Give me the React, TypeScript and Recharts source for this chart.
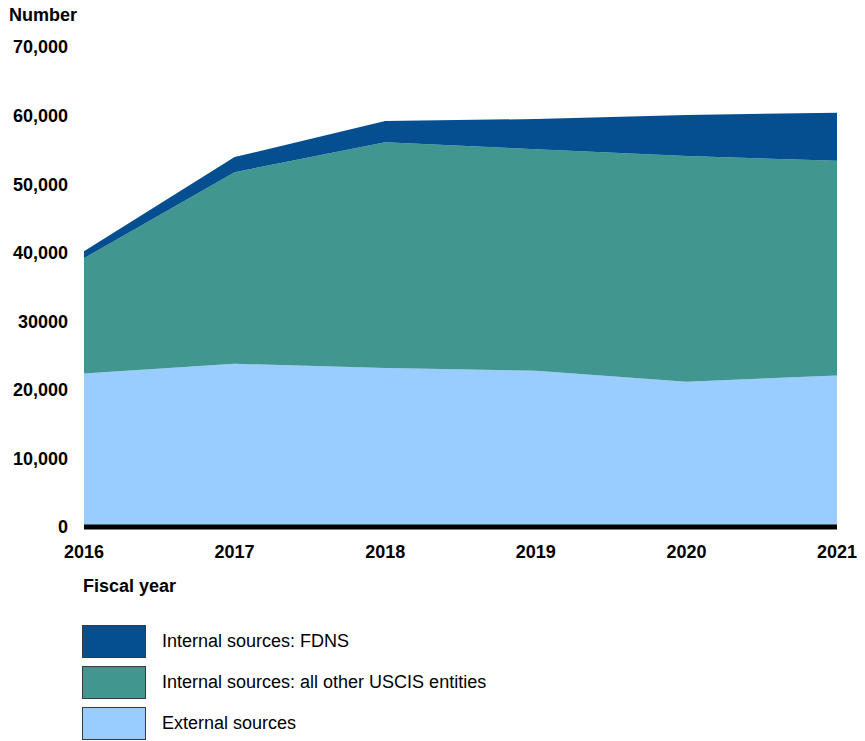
import React from 'react';
import { AreaChart, Area, XAxis, YAxis, ReferenceLine } from 'recharts';

const years = ['2016', '2017', '2018', '2019', '2020', '2021'];
const externalSources = [22400, 23800, 23200, 22800, 21200, 22100];
const otherUscis = [16800, 27950, 32900, 32300, 32900, 31300];
const fdns = [1000, 2200, 3100, 4400, 6000, 7000];

const yTicks = [0, 10000, 20000, 30000, 40000, 50000, 60000, 70000];
const yTickLabels = ['0', '10,000', '20,000', '30000', '40,000', '50,000', '60,000', '70,000'];

const seriesNames = {
  fdns: 'Internal sources: FDNS',
  other: 'Internal sources: all other USCIS entities',
  external: 'External sources',
};
const colors = {
  fdns: '#054F91',
  other: '#41978F',
  external: '#99CCFF',
};

const data = years.map((year, i) => ({
  year,
  external: externalSources[i],
  other: otherUscis[i],
  fdns: fdns[i],
}));

const FONT = '"Liberation Sans", Arial, sans-serif';

export default function App() {
  const legendItems: Array<'fdns' | 'other' | 'external'> = ['fdns', 'other', 'external'];
  return (
    <div
      style={{
        position: 'absolute',
        left: 0,
        top: 0,
        width: 865,
        height: 741,
        background: '#fff',
        fontFamily: FONT,
        color: '#000',
      }}
    >
      <div style={{ position: 'absolute', left: 9, top: 5, fontSize: 18, fontWeight: 'bold', lineHeight: '21px' }}>
        Number
      </div>
      <AreaChart
        width={865}
        height={580}
        data={data}
        margin={{ top: 47, right: 28, left: 0, bottom: 23 }}
        style={{ fontFamily: FONT }}
      >
        <XAxis
          dataKey="year"
          interval={0}
          tickLine={false}
          axisLine={false}
          tickSize={0}
          tickMargin={18}
          tick={{ fill: '#000', fontSize: 18, fontWeight: 'bold', fontFamily: FONT }}
        />
        <YAxis
          width={84}
          domain={[0, 70000]}
          ticks={yTicks}
          interval={0}
          tickFormatter={(v: number) => yTickLabels[yTicks.indexOf(v)]}
          axisLine={false}
          tickLine={false}
          tickSize={0}
          tickMargin={16}
          tick={{ fill: '#000', fontSize: 18, fontWeight: 'bold', fontFamily: FONT }}
        />
        <Area
          type="linear"
          dataKey="external"
          stackId="a"
          stroke="none"
          fill={colors.external}
          fillOpacity={1}
          isAnimationActive={false}
        />
        <Area
          type="linear"
          dataKey="other"
          stackId="a"
          stroke="none"
          fill={colors.other}
          fillOpacity={1}
          isAnimationActive={false}
        />
        <Area
          type="linear"
          dataKey="fdns"
          stackId="a"
          stroke="none"
          fill={colors.fdns}
          fillOpacity={1}
          isAnimationActive={false}
        />
        <ReferenceLine y={0} stroke="#000" strokeWidth={5} />
      </AreaChart>
      <div style={{ position: 'absolute', left: 83, top: 576, fontSize: 18, fontWeight: 'bold', lineHeight: '21px' }}>
        Fiscal year
      </div>
      {legendItems.map((key, i) => (
        <div key={key} style={{ position: 'absolute', left: 82, top: 625 + i * 41, height: 33, display: 'flex', alignItems: 'center' }}>
          <div
            style={{
              width: 62,
              height: 31,
              background: colors[key],
              border: '1px solid #3a3a3a',
              boxSizing: 'content-box',
            }}
          />
          <span style={{ marginLeft: 16, fontSize: 18, lineHeight: '21px' }}>{seriesNames[key]}</span>
        </div>
      ))}
    </div>
  );
}
